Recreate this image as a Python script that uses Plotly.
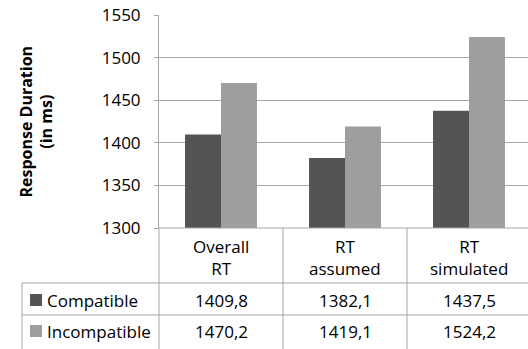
import plotly.graph_objects as go

categories = ["Overall<br>RT", "RT<br>assumed", "RT<br>simulated"]
series_names = ["Compatible", "Incompatible"]
compatible = [1409.8, 1382.1, 1437.5]
incompatible = [1470.2, 1419.1, 1524.2]
y_ticks = [1300, 1350, 1400, 1450, 1500, 1550]

colors = ["#545454", "#9e9e9e"]
line_col = "#a6a6a6"
font_family = "Open Sans"
fs = 17

x_idx = list(range(len(categories)))

fig = go.Figure()
for name, vals, col in zip(series_names, [compatible, incompatible], colors):
    fig.add_trace(go.Bar(x=x_idx, y=vals, name=name, marker=dict(color=col, line=dict(width=0)),
                         showlegend=False, hoverinfo="skip"))

# plot geometry (pixels)
W, H = 528, 349
ml, mt, mb, mr = 159, 15, 121, 0
pw = W - ml - mr
ph = H - mt - mb

def py(Y):
    return (H - mb - Y) / ph

def px(X):
    return (X - ml) / pw

fig.update_layout(
    width=W, height=H,
    margin=dict(l=ml, r=mr, t=mt, b=mb, pad=0),
    paper_bgcolor="white", plot_bgcolor="white",
    barmode="group", bargap=0.42, bargroupgap=0,
    font=dict(family=font_family, size=fs, color="#000000"),
    xaxis=dict(range=[-0.5, 2.5 - 3 / 124], showticklabels=False, showgrid=False,
               zeroline=False, showline=False, ticks=""),
    yaxis=dict(range=[1300, 1550], tickvals=y_ticks, showgrid=True, gridcolor=line_col,
               gridwidth=1, showline=True, linecolor=line_col, linewidth=1, ticks="outside",
               ticklen=4, tickcolor=line_col, zeroline=False, ticklabelstandoff=10,
               tickfont=dict(family=font_family, size=fs, color="#000000")),
)

shapes = []
def hline(x0, x1, y):
    shapes.append(dict(type="line", xref="paper", yref="paper", x0=x0, x1=x1, y0=y, y1=y,
                       line=dict(color=line_col, width=1)))

def vline_x(xv, y0, y1):
    shapes.append(dict(type="line", xref="x", yref="paper", x0=xv, x1=xv, y0=y0, y1=y1,
                       line=dict(color=line_col, width=1)))

y_row1 = py(283)
y_row2 = py(315)
y_bot = py(352)
x_tab_left = px(22)

# horizontal table lines
hline(0, 1.02, 0)
hline(x_tab_left, 1.02, y_row1)
hline(x_tab_left, 1.02, y_row2)
# vertical lines
shapes.append(dict(type="line", xref="paper", yref="paper", x0=0, x1=0, y0=0, y1=y_bot,
                   line=dict(color=line_col, width=1)))
shapes.append(dict(type="line", xref="paper", yref="paper", x0=x_tab_left, x1=x_tab_left,
                   y0=y_row1, y1=y_bot, line=dict(color=line_col, width=1)))
for i in range(len(categories) - 1):
    vline_x(i + 0.5, 0, y_bot)

# legend squares in table
sq = 12
for yc_px, col in [(300, colors[0]), (331, colors[1])]:
    shapes.append(dict(type="rect", xref="paper", yref="paper",
                       x0=px(30), x1=px(30 + sq), y0=py(yc_px - sq / 2), y1=py(yc_px + sq / 2),
                       fillcolor=col, line=dict(width=0)))

fig.update_layout(shapes=shapes)

ann = []
# category header
for i, c in enumerate(categories):
    ann.append(dict(x=i, y=py(257), xref="x", yref="paper", text=c, showarrow=False,
                    xanchor="center", yanchor="middle", font=dict(size=fs)))
# values
for row_y, name, vals in [(300, series_names[0], compatible), (331, series_names[1], incompatible)]:
    ann.append(dict(x=px(45), y=py(row_y), xref="paper", yref="paper", text=name,
                    showarrow=False, xanchor="left", yanchor="middle", font=dict(size=fs)))
    for i, v in enumerate(vals):
        ann.append(dict(x=i, y=py(row_y), xref="x", yref="paper",
                        text=f"{v:.1f}".replace(".", ","), showarrow=False,
                        xanchor="center", yanchor="middle", font=dict(size=fs)))
# axis title
ann.append(dict(x=px(36), y=0.5, xref="paper", yref="paper",
                text="<b>Response Duration</b><br><b>(in ms)</b>", showarrow=False,
                textangle=-90, xanchor="center", yanchor="middle", font=dict(size=16)))
fig.update_layout(annotations=ann)

fig.write_html("out.html", config={"displayModeBar": False},
               post_script="document.body.style.margin='0px';")
